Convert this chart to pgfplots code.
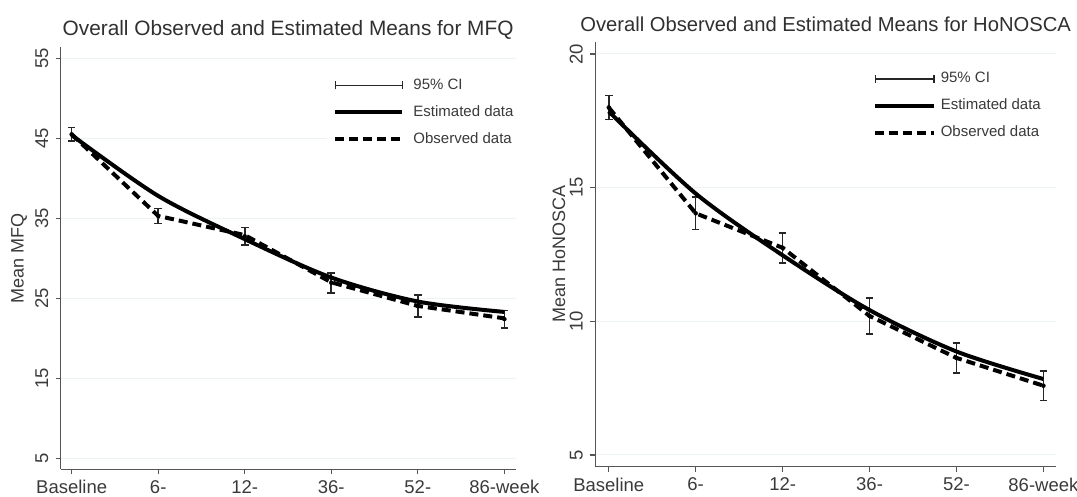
\documentclass[border=0pt]{standalone}
\usepackage{fontspec}
\setmainfont{Liberation Sans}
\usepackage{pgfplots}
\pgfplotsset{compat=1.18}

\definecolor{axgray}{HTML}{555555}
\definecolor{txtgray}{HTML}{3A3A3A}
\definecolor{titlegray}{HTML}{303030}
\definecolor{gridc}{HTML}{EDF2F2}

\pgfplotsset{
  base/.style={
    scale only axis,
    axis lines=left,
    axis line style={-, draw=axgray, line width=1.2pt},
    tick align=outside,
    major tick length=5pt,
    tick style={draw=axgray, line width=1.2pt},
    xtick={0,1,2,3,4,5},
    xticklabels={Baseline,6-,12-,36-,52-,86-week},
    ticklabel style={font=\fontsize{18.5}{21}\selectfont, text=txtgray},
    xticklabel style={inner sep=0pt, anchor=north},
    xticklabel shift=6pt,
    yticklabel style={rotate=90, anchor=south, inner sep=0pt},
    yticklabel shift=7pt,
    /pgf/number format/assume math mode=true,
    ymajorgrids,
    grid style={draw=gridc, line width=1pt},
    label style={font=\fontsize{18}{21}\selectfont, text=txtgray},
    title style={font=\fontsize{20.8}{24}\selectfont, text=titlegray, at={(0.5,1)}, anchor=base},
    legend style={draw=none, fill=white, inner sep=6pt,
      font=\fontsize{15}{18}\selectfont, text=txtgray,
      nodes={inner sep=1pt, text height=11pt, text depth=3pt},
      row sep=11pt, column sep=8pt, anchor=north west},
    legend cell align=left,
    cistyle/.style={draw=none, mark=none, only marks,
      error bars/y dir=both, error bars/y explicit,
      error bars/error mark=|,
      error bars/error bar style={line width=1.6pt, draw=black!85},
      error bars/error mark options={line width=1.6pt, mark size=3.8pt, draw=black!85}},
    eststyle/.style={black, line width=4pt, smooth, mark=none},
    obsstyle/.style={black, line width=4pt, dash pattern=on 9pt off 5pt, mark=none},
  }
}

\begin{document}
\begin{tikzpicture}[x=1pt,y=1pt]
\useasboundingbox (0,-496) rectangle (1077,0);

% ---------------- MFQ ----------------
\begin{axis}[base,
  at={(60.6pt,-469.3pt)}, anchor=south west,
  width=455pt, height=422.6pt,
  xmin=-0.128, xmax=5.13, ymin=3.63, ymax=56.45,
  ytick={5,15,25,35,45,55},
  ylabel={Mean MFQ},
  ylabel style={at={(axis description cs:-0.0914,0.5)}, anchor=center},
  title={Overall Observed and Estimated Means for MFQ},
  title style={yshift=5pt},
  legend style={at={(0.586,0.942)}},
]
\addplot[cistyle, legend image code/.code={\draw[line width=1.5pt, draw=black!85] (0pt,0pt) -- (67pt,0pt) (0pt,-4pt) -- (0pt,4pt) (67pt,-4pt) -- (67pt,4pt);}]
  coordinates {
  (0,45.5) +- (0,0.85)
  (1,35.3) +- (0,0.95)
  (2,32.75) +- (0,1.1)
  (3,26.95) +- (0,1.25)
  (4,24.05) +- (0,1.35)
  (5,22.4) +- (0,1.1)
};
\addlegendentry{95\% CI}
\addplot[eststyle, legend image code/.code={\draw[line width=4pt, black] (0pt,0pt) -- (67pt,0pt);}]
  coordinates {(0,45.4) (1,37.8) (2,32.4) (3,27.6) (4,24.6) (5,23.3)};
\addlegendentry{Estimated data}
\addplot[obsstyle, legend image code/.code={\draw[line width=4pt, black, dash pattern=on 9pt off 5pt] (0pt,0pt) -- (67pt,0pt);}]
  coordinates {(0,45.5) (1,35.3) (2,32.9) (3,27.0) (4,24.05) (5,22.5)};
\addlegendentry{Observed data}
\end{axis}

% ---------------- HoNOSCA ----------------
\begin{axis}[base,
  at={(595.1pt,-466.7pt)}, anchor=south west,
  width=461pt, height=425pt,
  xmin=-0.157, xmax=5.146, ymin=4.56, ymax=20.46,
  ytick={5,10,15,20},
  ylabel={Mean HoNOSCA},
  ylabel style={at={(axis description cs:-0.0785,0.5)}, anchor=center},
  title={Overall Observed and Estimated Means for HoNOSCA},
  title style={yshift=4pt, font=\fontsize{20.2}{24}\selectfont},
  legend style={at={(0.590,0.946)}, column sep=4pt},
]
\addplot[cistyle, legend image code/.code={\draw[line width=1.5pt, draw=black!85] (0pt,0pt) -- (58.5pt,0pt) (0pt,-4pt) -- (0pt,4pt) (58.5pt,-4pt) -- (58.5pt,4pt);}]
  coordinates {
  (0,18.0) +- (0,0.45)
  (1,14.04) +- (0,0.6)
  (2,12.75) +- (0,0.56)
  (3,10.2) +- (0,0.68)
  (4,8.63) +- (0,0.56)
  (5,7.59) +- (0,0.55)
};
\addlegendentry{95\% CI}
\addplot[eststyle, legend image code/.code={\draw[line width=4pt, black] (0pt,0pt) -- (58.5pt,0pt);}]
  coordinates {(0,17.85) (1,14.78) (2,12.47) (3,10.42) (4,8.87) (5,7.84)};
\addlegendentry{Estimated data}
\addplot[obsstyle, legend image code/.code={\draw[line width=4pt, black, dash pattern=on 9pt off 5pt] (0pt,0pt) -- (58.5pt,0pt);}]
  coordinates {(0,18.0) (1,14.04) (2,12.75) (3,10.2) (4,8.63) (5,7.59)};
\addlegendentry{Observed data}
\end{axis}
\end{tikzpicture}
\end{document}
